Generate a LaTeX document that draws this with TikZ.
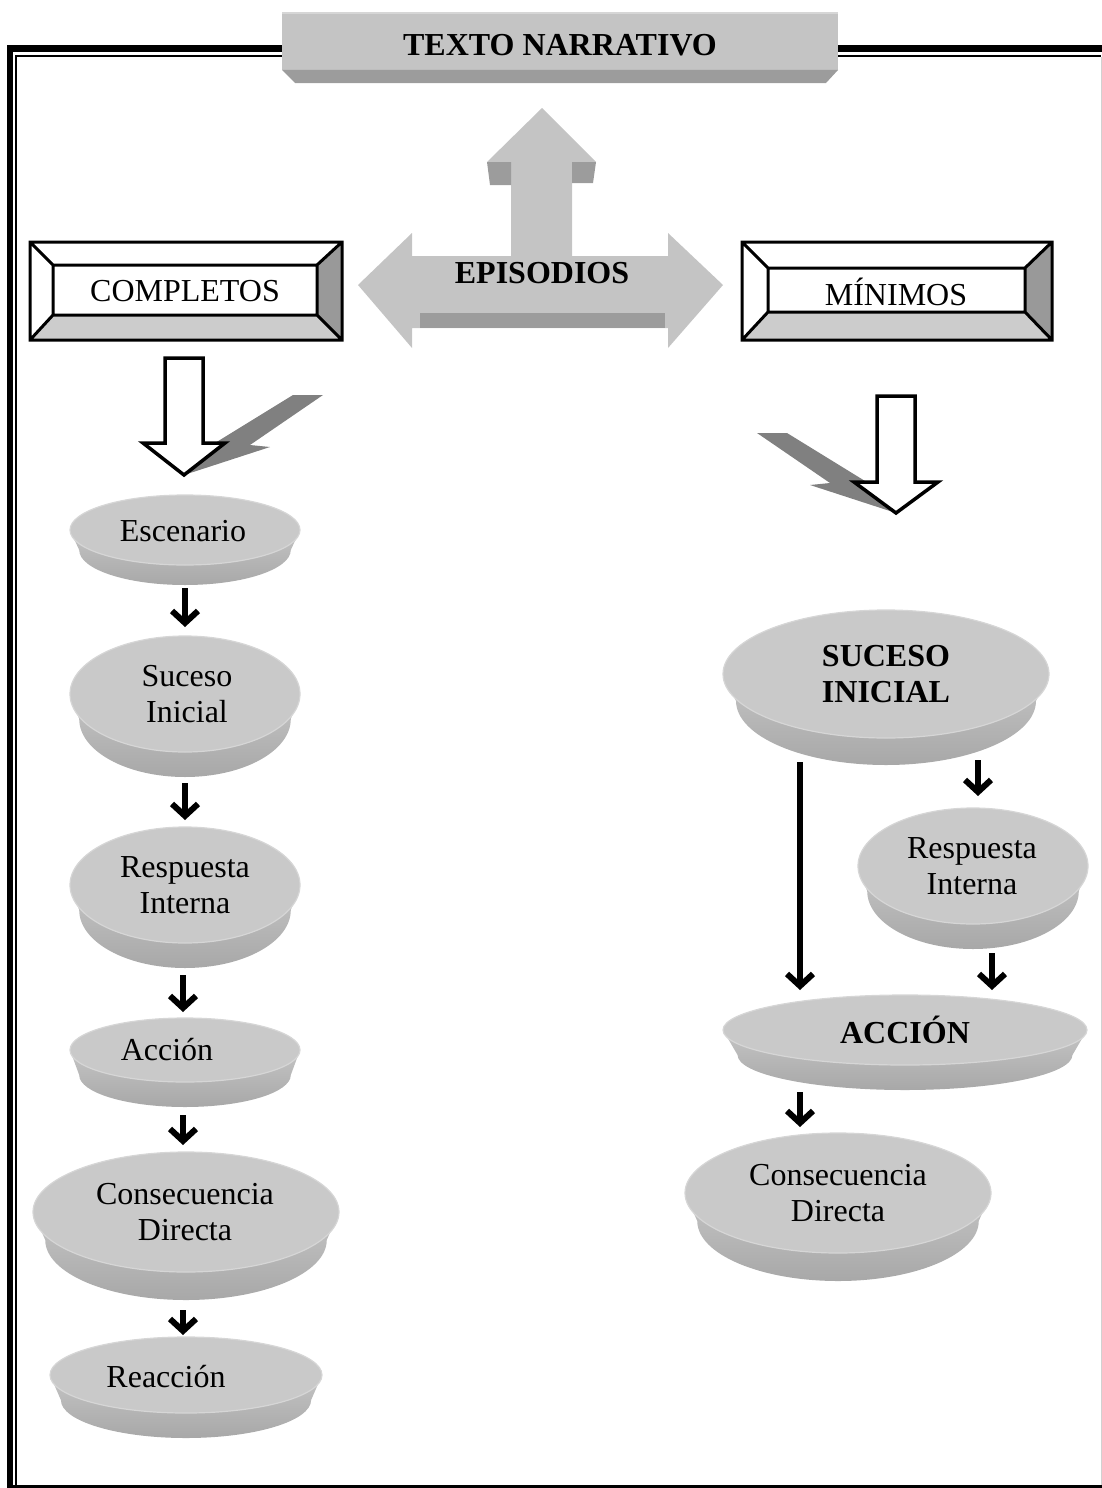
\documentclass[tikz,border=0pt]{standalone}
\usepackage{fontspec}
\setmainfont{Liberation Serif}
\usetikzlibrary{arrows.meta,calc}

\definecolor{faceGray}{HTML}{C9C9C9}
\definecolor{faceEdge}{HTML}{D6D6D6}
\definecolor{rimTop}{HTML}{C4C4C4}
\definecolor{rimBot}{HTML}{A8A8A8}
\definecolor{darkFacet}{HTML}{9C9C9C}
\definecolor{titleGray}{HTML}{C4C4C4}
\definecolor{boltGray}{HTML}{808080}
\definecolor{bevelRight}{HTML}{999999}
\definecolor{bevelBottom}{HTML}{CCCCCC}

\tikzset{
  lbl/.style={font=\fontsize{32pt}{36pt}\selectfont, align=center, inner sep=0pt},
  lblb/.style={lbl, font=\fontsize{32pt}{36pt}\selectfont\bfseries},
  flow/.style={line width=6pt, -{Straight Barb[length=12pt,width=26pt,line width=0pt 1]}},
  blockarrow/.style={fill=white, draw=black, line width=3.5pt, line join=miter},
  bolt/.style={fill=boltGray},
  bevelline/.style={draw=black, line width=3pt},
}

% flat disk: name, cx, cy, x radius, y radius, rim depth
\newcommand{\disk}[6]{%
  \begin{scope}[shift={(#2,#3)}]
    \shade[top color=rimTop, bottom color=rimBot]
      (-#4,0) -- ({-0.92*#4},#6)
      arc[start angle=180, end angle=0, x radius={0.92*#4}, y radius=#5]
      -- (#4,0) -- cycle;
    \fill[faceGray, draw=faceEdge, line width=1.2pt] (0,0) ellipse[x radius=#4, y radius=#5];
    \coordinate (#1-t) at (0,-#5);
    \coordinate (#1-b) at (0,{#5+#6});
  \end{scope}}

% bevelled frame: outer x1,y1,x2,y2 and inner x1,y1,x2,y2
\newcommand{\bevelbox}[8]{%
  \fill[white] (#1,#2) -- (#3,#2) -- (#7,#6) -- (#5,#6) -- cycle;
  \fill[white] (#1,#2) -- (#5,#6) -- (#5,#8) -- (#1,#4) -- cycle;
  \fill[bevelRight] (#3,#2) -- (#3,#4) -- (#7,#8) -- (#7,#6) -- cycle;
  \fill[bevelBottom] (#1,#4) -- (#3,#4) -- (#7,#8) -- (#5,#8) -- cycle;
  \fill[white] (#5,#6) rectangle (#7,#8);
  \draw[bevelline] (#1,#2) rectangle (#3,#4) (#5,#6) rectangle (#7,#8)
     (#1,#2) -- (#5,#6) (#3,#2) -- (#7,#6) (#3,#4) -- (#7,#8) (#1,#4) -- (#5,#8);}

\begin{document}
\begin{tikzpicture}[x=1pt,y=-1pt]
\useasboundingbox (0,0) rectangle (1102,1488);

% page frame (thick and thin rule)
\draw[line width=6.5pt] (10,1488) -- (10,48.5) -- (1102,48.5);
\draw[line width=1.8pt] (16,1486) -- (16,56) -- (1101,56);
\draw[line width=3.5pt] (7,1486.25) -- (1102,1486.25);
\draw[black!18, line width=1pt] (1101,57) -- (1101,1485);

% title block
\fill[titleGray] (282,12) rectangle (838,70);
\fill[darkFacet] (282,70) -- (838,70) -- (826,83) -- (295,83) -- cycle;
\draw[faceEdge, line width=1.5pt] (282,13) -- (838,13);
\node[lblb] (title) at (560,45) {TEXTO NARRATIVO};

% three-way arrow
\fill[titleGray] (542,108) -- (596,162) -- (572,162) -- (572,256) -- (668,256)
  -- (668,233) -- (723,285) -- (668,348) -- (668,328) -- (412,328) -- (412,348)
  -- (358,285) -- (412,233) -- (412,256) -- (511,256) -- (511,162) -- (487,162) -- cycle;
\fill[darkFacet] (487,162) -- (511,162) -- (511,185) -- (490,185) -- cycle;
\fill[darkFacet] (572,162) -- (596,162) -- (593,183) -- (572,183) -- cycle;
\fill[darkFacet] (420,313) -- (665,313) -- (665,328) -- (420,328) -- cycle;
\node[lblb] (epi) at (542,273) {EPISODIOS};

% category frames
\bevelbox{30}{242}{342}{340}{53}{265}{317}{315}
\node[lbl] (comp) at (185,291) {COMPLETOS};
\bevelbox{742}{242}{1052}{340}{768}{268}{1025}{312}
\node[lbl] (mini) at (896,292) {MÍNIMOS};

% block arrows with their shadow bolts
\fill[bolt] (293,395) -- (323,395) -- (250,445) -- (270,447) -- (184,475) -- (215,443) -- cycle;
\draw[blockarrow] (165,358) -- (203,358) -- (203,443) -- (225,443) -- (184,475)
  -- (143,443) -- (165,443) -- cycle;
\fill[bolt] (787,433) -- (757,433) -- (830,483) -- (810,485) -- (896,513) -- (865,481) -- cycle;
\draw[blockarrow] (877,396) -- (915,396) -- (915,482) -- (938,482) -- (896,513)
  -- (854,482) -- (877,482) -- cycle;

% complete episode chain
\disk{esc}{185}{530}{115}{35}{20}
\node[lbl] (escT) at (183,531) {Escenario};
\disk{sucL}{185}{694}{115}{58}{25}
\node[lbl] (sucLT) at (187,694) {Suceso\\Inicial};
\disk{resL}{185}{885}{115}{58}{25}
\node[lbl] (resLT) at (185,885) {Respuesta\\Interna};
\disk{accL}{185}{1050}{115}{32}{25}
\node[lbl] (accLT) at (167,1050) {Acción};
\disk{conL}{186}{1212}{153}{60}{28}
\node[lbl] (conLT) at (185,1212) {Consecuencia\\Directa};
\disk{reaL}{186}{1375}{136}{38}{25}
\node[lbl] (reaLT) at (166,1377) {Reacción};

\draw[flow] ([yshift=-3pt]esc-b) -- ([yshift=9pt]sucL-t);
\draw[flow] ([yshift=-6pt]sucL-b) -- ([yshift=7pt]resL-t);
\draw[flow] ([xshift=-2pt,yshift=-7pt]resL-b) -- ([xshift=-2pt,yshift=6pt]accL-t);
\draw[flow] ([xshift=-2pt,yshift=-8pt]accL-b) -- ([xshift=-3pt,yshift=7pt]conL-t);
\draw[flow] ([xshift=-3pt,yshift=-10pt]conL-b) -- ([xshift=-3pt,yshift=2pt]reaL-t);

% minimal episode chain
\disk{sucR}{886}{674}{163}{64}{27}
\node[lblb] (sucRT) at (886,674) {SUCESO\\INICIAL};
\disk{resR}{973}{866}{115}{58}{25}
\node[lbl] (resRT) at (972,866) {Respuesta\\Interna};
\disk{accR}{905}{1030}{182}{35}{25}
\node[lblb] (accRT) at (905,1030) {ACCIÓN};
\disk{conR}{838}{1193}{153}{60}{28}
\node[lbl] (conRT) at (838,1193) {Consecuencia\\Directa};

\draw[flow] ([xshift=92pt,yshift=5pt]sucR-b) -- ([xshift=5pt,yshift=12pt]resR-t);
\draw[flow] ([xshift=-86pt,yshift=3pt]sucR-b) -- ([xshift=-105pt,yshift=5pt]accR-t);
\draw[flow] ([xshift=19pt,yshift=-4pt]resR-b) -- ([xshift=87pt,yshift=5pt]accR-t);
\draw[flow] ([xshift=-105pt,yshift=-2pt]accR-b) -- ([xshift=-38pt,yshift=6pt]conR-t);
\end{tikzpicture}
\end{document}
